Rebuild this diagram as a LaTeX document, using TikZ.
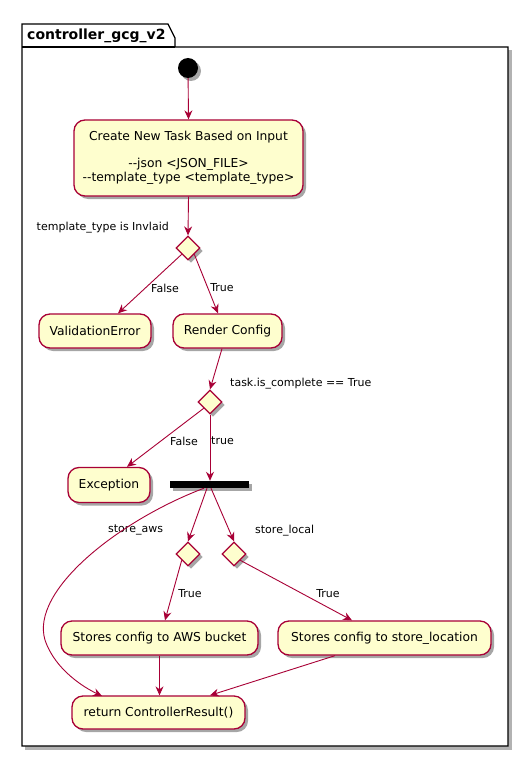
\documentclass[tikz,border=0pt]{standalone}
\usepackage{fontspec}
\setmainfont{DejaVu Sans}
\usetikzlibrary{arrows.meta,shadows,shapes.geometric}
\definecolor{bord}{HTML}{A80036}
\definecolor{actfill}{HTML}{FEFECE}
\tikzset{
  shad/.style={drop shadow={opacity=0.35,shadow xshift=3pt,shadow yshift=-3pt,fill=black}},
  act/.style={draw=bord,fill=actfill,line width=1.3pt,rounded corners=11pt,shad,
     font=\fontsize{12.3}{14}\selectfont,inner sep=0pt,align=center},
  dia/.style={draw=bord,fill=actfill,line width=1.3pt,diamond,minimum width=24pt,minimum height=24pt,inner sep=0pt,shad},
  conn/.style={draw=bord,line width=0.9pt,-{Stealth[length=9pt,width=8pt,inset=3pt]}},
  lab/.style={font=\fontsize{11}{13}\selectfont,inner sep=0pt},
}
\begin{document}
\begin{tikzpicture}[x=1pt,y=-1pt]
\useasboundingbox (0,0) rectangle (528,757);
% package frame
\fill[black,opacity=0.3] (25,50) rectangle (512,750);
\draw[fill=white,line width=1.2pt] (22,47) -- (22,24) -- (168,24) -- (175,38) -- (175,47) -- (508,47) -- (508,746) -- (22,746) -- cycle;
\draw[line width=1.2pt] (22,47) -- (175,47);
\node[anchor=base west,font=\bfseries\fontsize{14}{16}\selectfont,inner sep=0pt] (title) at (27,40) {controller\_gcg\_v2};

% start
\node[circle,fill=black,minimum size=20pt,inner sep=0pt,shad] (start) at (188,68) {};
% first box
\node[act,minimum width=229pt,minimum height=76pt] (create) at (188.5,158)
  {Create New Task Based on Input\\[13pt]{-}{-}json <JSON\_FILE>\\{-}{-}template\_type <template\_type>};
\node[dia] (d1) at (188,248) {};
\node[lab,anchor=base east] (l1) at (169,230) {template\_type is Invlaid};
\node[act,minimum width=112pt,minimum height=34pt] (valerr) at (95,331) {ValidationError};
\node[act,minimum width=109pt,minimum height=34pt] (render) at (227.5,331) {Render Config};
\node[dia] (d2) at (210,402) {};
\node[lab,anchor=base west] (l2) at (230,386) {task.is\_complete == True};
\node[act,minimum width=82pt,minimum height=35pt] (exc) at (109,485) {Exception};
\node[fill=black,minimum width=79pt,minimum height=7pt,inner sep=0pt,shad] (bar) at (209.5,484.5) {};
\node[dia] (d3) at (188,554) {};
\node[dia] (d4) at (234,554) {};
\node[lab,anchor=base west] (l3) at (108,532) {store\_aws};
\node[lab,anchor=base west] (l4) at (255,533) {store\_local};
\node[act,minimum width=197pt,minimum height=34pt] (aws) at (159.5,638) {Stores config to AWS bucket};
\node[act,minimum width=213pt,minimum height=34pt] (loc) at (384.5,638) {Stores config to store\_location};
\node[act,minimum width=173pt,minimum height=33pt] (ret) at (158.5,712.5) {return ControllerResult()};

% edge labels
\node[lab] (f1) at (165,288) {False};
\node[lab] (t1) at (222,288) {True};
\node[lab] (f2) at (184,441) {False};
\node[lab] (t2) at (222.5,441) {true};
\node[lab] (t3) at (190,594) {True};
\node[lab] (t4) at (328,594) {True};

% connectors
\draw[conn] (start) -- (create.north);
\draw[conn] (create.south) -- (d1.north);
\draw[conn] (d1.south west) -- (valerr.north -| 118,0);
\draw[conn] (d1.south east) -- (render.north -| 218,0);
\draw[conn] (render.south -| 222,0) -- (d2.north);
\draw[conn] (d2.south west) -- (exc.north -| 127,0);
\draw[conn] (d2.south) -- (bar.north -| d2);
\draw[conn] (bar.south -| 204,0) .. controls (120,520) and (30,590) .. (45,640) .. controls (55,670) and (85,688) .. (102,696);
\draw[conn] (bar.south -| 207,0) -- (d3.north);
\draw[conn] (bar.south -| 211,0) -- (d4.north);
\draw[conn] (d3.south west) -- (aws.north -| 165,0);
\draw[conn] (d4.south east) -- (loc.north -| 352,0);
\draw[conn] (aws.south) -- (ret.north -| aws);
\draw[conn] (loc.south -| 335,0) -- (ret.north -| 210,0);
\end{tikzpicture}
\end{document}
